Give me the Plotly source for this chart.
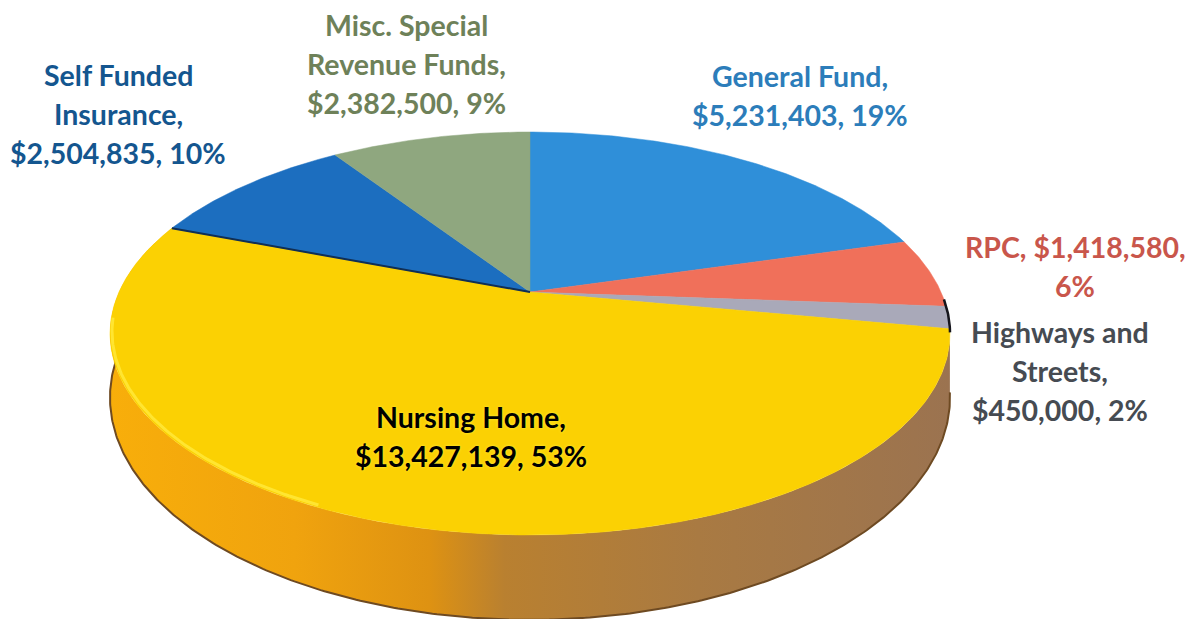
import numpy as np
import plotly.graph_objects as go

# --- data ---
categories = ["General Fund", "RPC", "Highways and Streets", "Nursing Home",
              "Self Funded Insurance", "Misc. Special Revenue Funds"]
values = [5231403, 1418580, 450000, 13427139, 2504835, 2382500]
slice_colors = ["#2F8FD9", "#F0705A", "#A9A9B9", "#FBD103", "#1C6EBF", "#8FA77F"]

label_lines = [
    ["General Fund,", "$5,231,403, 19%"],
    ["RPC, $1,418,580,", "6%"],
    ["Highways and", "Streets,", "$450,000, 2%"],
    ["Nursing Home,", "$13,427,139, 53%"],
    ["Self Funded", "Insurance,", "$2,504,835, 10%"],
    ["Misc. Special", "Revenue Funds,", "$2,382,500, 9%"],
]
label_colors = ["#2C7DBA", "#C9564B", "#464B52", "#000000", "#14568F", "#6E8159"]
label_x = [800, 1075, 1060, 471, 118, 406]
label_y = [76, 247, 332, 417, 75, 25]
LINE_H = 39

# --- perspective-disc geometry (pixel-sized axes) ---
W, H = 1194, 619
CX, CY, R, TILT, LIFT = 530.0, 292.0, 411.0, 0.206, 132.8
DEPTH = 60.0


def rim(theta_deg):
    t = np.radians(theta_deg)
    s, c = np.cos(t), np.sin(t)
    den = 1 + TILT * s
    return CX + R * c / den, (CY - LIFT * s) / den, den


def arc(a, b):
    n = max(int(abs(b - a) * 2), 2)
    return np.linspace(a, b, n)


frac = np.array(values, dtype=float) / sum(values)
edges = np.concatenate([[0.0], np.cumsum(frac) * 360.0])
i_nursing = categories.index("Nursing Home")
i_highways = categories.index("Highways and Streets")
i_self = categories.index("Self Funded Insurance")

fig = go.Figure()

# Side wall under the large slice
th = arc(edges[i_nursing], edges[i_nursing + 1])
x_top, y_top, den = rim(th)
y_bot = y_top + DEPTH / den ** 1.5
fig.add_trace(go.Scatter(
    x=np.concatenate([x_top, x_top[::-1]]),
    y=np.concatenate([y_top, y_bot[::-1]]),
    mode="lines", fill="toself", line=dict(width=0, color="rgba(0,0,0,0)"),
    fillgradient=dict(
        type="horizontal",
        colorscale=[[0.0, "#F8AE0A"], [0.22, "#F0A30E"], [0.38, "#DE9212"],
                    [0.47, "#B98030"], [0.70, "#A97A42"], [1.0, "#9B7350"]],
    ),
    hoverinfo="skip", showlegend=False,
))
# Dark lower edge of the wall
fig.add_trace(go.Scatter(x=x_top, y=y_bot, mode="lines",
                         line=dict(color="#6E4A22", width=2),
                         hoverinfo="skip", showlegend=False))

# Top-face slices
for i, name in enumerate(categories):
    th = arc(edges[i], edges[i + 1])
    x, y, _ = rim(th)
    fig.add_trace(go.Scatter(
        x=np.concatenate([[CX], x, [CX]]),
        y=np.concatenate([[CY], y, [CY]]),
        mode="lines", fill="toself", fillcolor=slice_colors[i],
        line=dict(width=0.5, color=slice_colors[i]),
        name=name, text=name, hoverinfo="text", showlegend=False,
    ))

# Bright bevel along the lower-left rim
th = arc(205, 262)
x, y, den = rim(th)
fig.add_trace(go.Scatter(x=x + 2, y=y - 2, mode="lines",
                         line=dict(color="#FFE531", width=3),
                         hoverinfo="skip", showlegend=False))

# Dark seam between Self Funded and Nursing Home
xr, yr, _ = rim(np.array([edges[i_self]]))
fig.add_trace(go.Scatter(x=[CX, xr[0]], y=[CY, yr[0]], mode="lines",
                         line=dict(color="#102F55", width=2),
                         hoverinfo="skip", showlegend=False))

# Dark rim at the Highways slice
th = arc(edges[i_highways] - 2, edges[i_highways + 1] + 1)
x, y, _ = rim(th)
fig.add_trace(go.Scatter(x=x, y=y, mode="lines",
                         line=dict(color="#15151C", width=2.5),
                         hoverinfo="skip", showlegend=False))

# Labels, one annotation per line for the exact line pitch
for lines, col, lx, ly in zip(label_lines, label_colors, label_x, label_y):
    for k, line in enumerate(lines):
        font = dict(family="Lato, Carlito, sans-serif", size=28.5, color=col, weight=700)
        if col == "#000000":
            font["shadow"] = "0 0 3px #FFEC3C"
        fig.add_annotation(x=lx, y=ly + k * LINE_H, text=line, showarrow=False,
                           xanchor="center", yanchor="middle", font=font)

fig.update_layout(
    width=W, height=H, margin=dict(l=0, r=0, t=0, b=0),
    paper_bgcolor="white", plot_bgcolor="white",
    xaxis=dict(range=[0, W], visible=False, fixedrange=True),
    yaxis=dict(range=[H, 0], visible=False, fixedrange=True),
)
fig.write_html("out.html", config={"displayModeBar": False},
               post_script="document.body.style.margin='0';document.body.style.overflow='hidden';")
